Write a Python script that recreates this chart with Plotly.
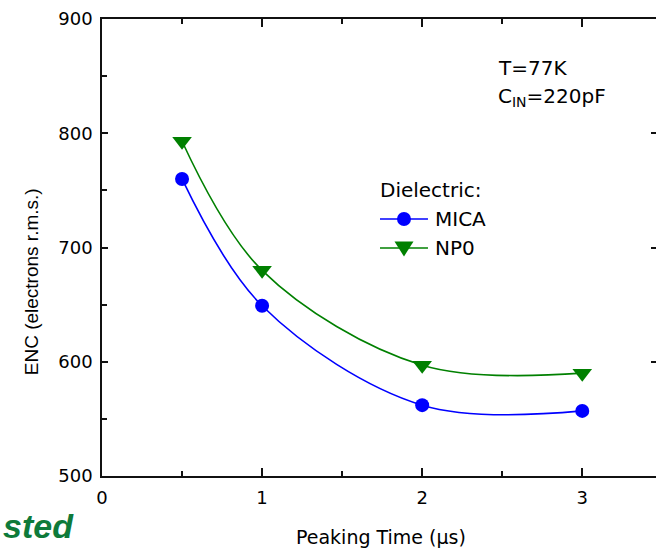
import plotly.graph_objects as go

# Peaking times (µs) and measured ENC (electrons r.m.s.) for the two dielectrics
peaking_time = [0.5, 1.0, 2.0, 3.0]
enc_mica = [760, 649, 562, 557]
enc_np0 = [793, 680, 597, 590]

series_names = ["MICA", "NP0"]
series_colors = ["#0000ff", "#008000"]
x_tick_values = [0, 1, 2, 3]
y_tick_values = [500, 600, 700, 800, 900]

TEXT_FONT = "DejaVu Sans"
AXIS_COLOR = "#111111"

fig = go.Figure()

fig.add_trace(go.Scatter(
    x=peaking_time, y=enc_mica, name=series_names[0], mode="lines+markers",
    line=dict(color=series_colors[0], width=1.6, shape="spline", smoothing=1.0),
    marker=dict(symbol="circle", size=14, color=series_colors[0]),
    showlegend=False, cliponaxis=False,
))
fig.add_trace(go.Scatter(
    x=peaking_time, y=enc_np0, name=series_names[1], mode="lines+markers",
    line=dict(color=series_colors[1], width=1.6, shape="spline", smoothing=1.0),
    marker=dict(symbol="triangle-down", size=17, color=series_colors[1]),
    showlegend=False, cliponaxis=False,
))
# carrier trace so the right-hand tick axis is rendered
fig.add_trace(go.Scatter(x=[], y=[], yaxis="y2", showlegend=False, hoverinfo="skip"))

fig.update_layout(
    width=656, height=548,
    margin=dict(l=102, r=0, t=19, b=72, autoexpand=False),
    paper_bgcolor="white", plot_bgcolor="white",
    font=dict(family=TEXT_FONT, size=18, color="black"),
    xaxis=dict(
        range=[0, 3.4606], tickvals=x_tick_values, ticks="inside", ticklen=8,
        tickwidth=1.5, tickcolor=AXIS_COLOR, showline=True, linecolor=AXIS_COLOR,
        linewidth=1.5, mirror="ticks", showgrid=False, zeroline=False,
        ticklabelstandoff=5, tickfont=dict(family=TEXT_FONT, size=18),
        minor=dict(dtick=0.5, ticks="inside", ticklen=5, tickwidth=1.5,
                   tickcolor=AXIS_COLOR, showgrid=False),
    ),
    yaxis=dict(
        range=[500, 900], tickvals=y_tick_values, ticks="inside", ticklen=6,
        tickwidth=1.5, tickcolor=AXIS_COLOR, showline=True, linecolor=AXIS_COLOR,
        linewidth=1.5, showgrid=False, zeroline=False, ticklabelstandoff=4,
        tickfont=dict(family=TEXT_FONT, size=18),
        minor=dict(dtick=50, ticks="inside", ticklen=5, tickwidth=1.5,
                   tickcolor=AXIS_COLOR, showgrid=False),
    ),
    yaxis2=dict(
        range=[500, 900], overlaying="y", side="right", anchor="x",
        tickvals=[600, 700, 800], ticks="inside", ticklen=5, tickwidth=1.5,
        tickcolor=AXIS_COLOR, showline=False, showgrid=False, zeroline=False,
        showticklabels=False,
    ),
)

# axis titles
fig.add_annotation(
    text="Peaking Time (µs)", xref="paper", yref="paper", x=0.504, y=0,
    xanchor="center", yanchor="middle", yshift=-61, showarrow=False,
    font=dict(family=TEXT_FONT, size=19),
)
fig.add_annotation(
    text="ENC (electrons r.m.s.)", xref="paper", yref="paper", x=0, y=0.424,
    xanchor="center", yanchor="middle", xshift=-71, textangle=-90, showarrow=False,
    font=dict(family="Liberation Sans", size=19),
)

# measurement conditions
fig.add_annotation(
    text="T=77K", xref="paper", yref="paper", x=0.711, y=0.893,
    xanchor="left", yanchor="middle", showarrow=False,
    font=dict(family=TEXT_FONT, size=20),
)
fig.add_annotation(
    text="C<sub>IN</sub>=220pF", xref="paper", yref="paper", x=0.711, y=0.830,
    xanchor="left", yanchor="middle", showarrow=False,
    font=dict(family=TEXT_FONT, size=20),
)

# hand-built legend
leg_x0, leg_x1, leg_mark, leg_text = 0.5018, 0.5884, 0.5451, 0.597
row_y = [0.5624, 0.4989]
fig.add_annotation(
    text="Dielectric:", xref="paper", yref="paper", x=0.498, y=0.626,
    xanchor="left", yanchor="middle", showarrow=False,
    font=dict(family=TEXT_FONT, size=20),
)
for name, color, yy in zip(series_names, series_colors, row_y):
    fig.add_shape(type="line", xref="paper", yref="paper", x0=leg_x0, x1=leg_x1,
                  y0=yy, y1=yy, line=dict(color=color, width=1.6))
    fig.add_annotation(
        text=name, xref="paper", yref="paper", x=leg_text, y=yy,
        xanchor="left", yanchor="middle", showarrow=False,
        font=dict(family=TEXT_FONT, size=20),
    )
fig.add_shape(type="circle", xref="paper", yref="paper",
              xsizemode="pixel", ysizemode="pixel", xanchor=leg_mark, yanchor=row_y[0],
              x0=-7, x1=7, y0=-7, y1=7, fillcolor=series_colors[0], line=dict(width=0))
fig.add_shape(type="path", xref="paper", yref="paper",
              xsizemode="pixel", ysizemode="pixel", xanchor=leg_mark, yanchor=row_y[1],
              path="M -9.5 6.5 L 9.5 6.5 L 0 -8.5 Z",
              fillcolor=series_colors[1], line=dict(width=0))

# banner word at the lower left
fig.add_annotation(
    text="<b><i>sted</i></b>", xref="paper", yref="paper", x=0, y=0,
    xanchor="left", yanchor="middle", xshift=-101, yshift=-50, showarrow=False,
    font=dict(family="Liberation Sans", size=34, color="#0e7a3a"),
)

fig.write_html("out.html")
